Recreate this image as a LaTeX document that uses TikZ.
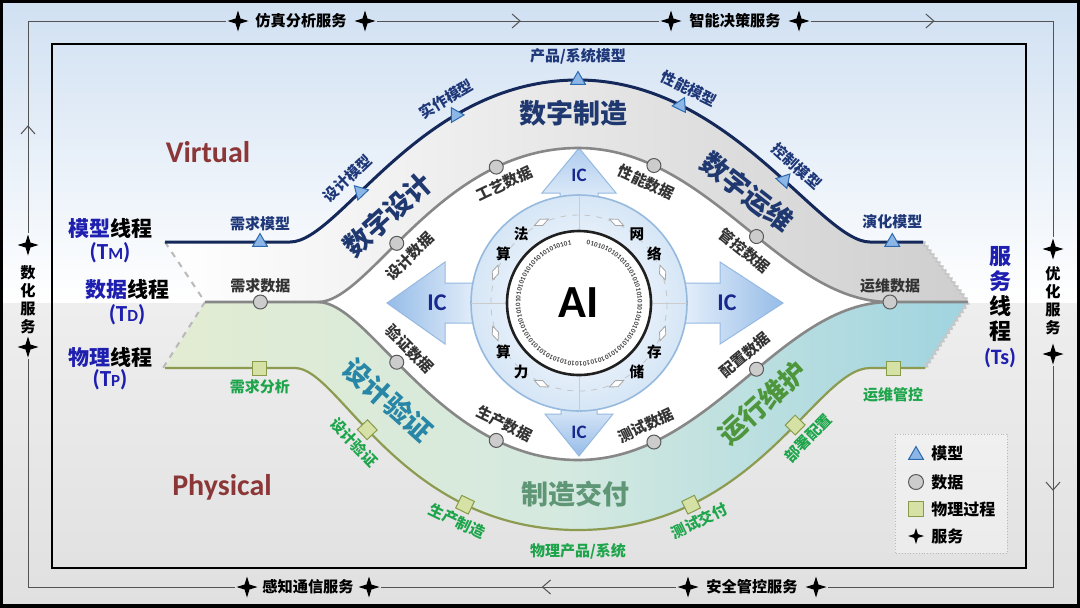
\documentclass[tikz,border=0pt]{standalone}
\usepackage{fontspec}
\setmainfont{Carlito}
\newfontfamily\cjk{Noto Sans CJK SC}
\usetikzlibrary{shapes.geometric,arrows.meta,decorations.markings,decorations.pathmorphing}

\definecolor{bgblue}{RGB}{208,224,242}
\definecolor{bggrayA}{RGB}{238,238,238}
\definecolor{bggrayB}{RGB}{224,224,224}
\definecolor{navyline}{RGB}{20,40,90}
\definecolor{dataline}{RGB}{135,135,135}
\definecolor{physline}{RGB}{140,155,80}
\definecolor{mlabel}{RGB}{30,55,120}
\definecolor{plabel}{RGB}{30,165,75}
\definecolor{titlenavy}{RGB}{31,56,112}
\definecolor{mblue}{RGB}{30,30,175}
\definecolor{vred}{RGB}{140,55,55}
\definecolor{trifill}{RGB}{140,182,230}
\definecolor{triedge}{RGB}{45,105,175}
\definecolor{sqfill}{RGB}{214,226,165}
\definecolor{sqedge}{RGB}{135,155,75}
\definecolor{icdark}{RGB}{150,188,232}
\definecolor{iclight}{RGB}{235,243,252}
\definecolor{icedge}{RGB}{150,185,225}
\definecolor{ictext}{RGB}{25,40,140}
\definecolor{ringblue}{RGB}{214,230,246}
\definecolor{ringedge}{RGB}{150,185,222}
\definecolor{greenband}{RGB}{226,236,210}
\definecolor{midband}{RGB}{212,233,224}
\definecolor{tealband}{RGB}{160,212,224}
\definecolor{vtitle}{RGB}{40,135,166}
\definecolor{ztitle}{RGB}{94,150,118}
\definecolor{otitle}{RGB}{78,150,60}

\begin{document}
\begin{tikzpicture}[x=0.5pt, y=-0.5pt,
    mthread/.style={draw=navyline, line width=1.5pt},
    dthread/.style={draw=dataline, line width=1.3pt},
    pthread/.style={draw=physline, line width=1.1pt},
    mtri/.style={regular polygon, regular polygon sides=3, draw=triedge, fill=trifill, line width=.5pt, inner sep=0pt, minimum size=8.5pt},
    dcirc/.style={circle, draw=gray!70!black, fill=gray!40, line width=.5pt, inner sep=0pt, minimum size=7pt},
    psq/.style={rectangle, draw=sqedge, fill=sqfill, line width=.5pt, inner sep=0pt, minimum size=7pt},
    svc/.style={star, star points=4, star point ratio=3, fill=black, inner sep=0pt, minimum size=10.5pt},
    loopline/.style={draw=gray!65!black, line width=.5pt},
    chevron/.style={postaction={decorate}, decoration={markings, mark=at position #1 with {\arrow{Straight Barb[length=4pt,width=7pt]}}}},
    mlab/.style={font=\cjk\bfseries\fontsize{7.5}{8}\selectfont, text=mlabel, inner sep=1pt},
    dlab/.style={font=\cjk\bfseries\fontsize{7.5}{8}\selectfont, text=black!80, inner sep=1pt},
    plab/.style={font=\cjk\bfseries\fontsize{7.5}{8}\selectfont, text=plabel, inner sep=1pt},
    bigtitle/.style={font=\cjk\bfseries\fontsize{13.5}{14}\selectfont},
    thr/.style={font=\cjk\bfseries\fontsize{10.5}{12}\selectfont},
    tsub/.style={font=\bfseries\fontsize{11.5}{12}\selectfont, text=mblue},
    svlab/.style={font=\cjk\bfseries\fontsize{7.6}{9}\selectfont},
    iclab/.style={font=\bfseries\fontsize{#1}{#1}\selectfont, text=ictext},
    ailab/.style={font=\cjk\bfseries\fontsize{7.3}{8}\selectfont},
    bit/.style={font=\bfseries\fontsize{3.5}{4}\selectfont, text=black!75, inner sep=0pt},
    lgtext/.style={font=\cjk\bfseries\fontsize{8}{9}\selectfont, anchor=west, inner sep=0pt},
    rhomb/.style={diamond, draw=gray!70, fill=white, line width=.4pt, inner sep=0pt, minimum width=3.5pt, minimum height=8pt}
]

% 背景
\useasboundingbox (0,0) rectangle (1080,607);
\shade[top color=bgblue, bottom color=white] (0,0) rectangle (1080,303);
\shade[top color=bggrayA, bottom color=bggrayB] (0,303) rectangle (1080,607);

% 外框和内框
\draw[line width=1.6pt] (1,1) rectangle (1079,606);
\draw[line width=1.4pt] (52,44) rectangle (1026,568);

% 服务环线
\coordinate (c1) at (28,21);
\coordinate (c2) at (1053,21);
\coordinate (c3) at (1053,587);
\coordinate (c4) at (28,587);
\node[svc] (ts1) at (238,21) {};
\node[svc] (ts2) at (365,21) {};
\node[svc] (ts3) at (671,21) {};
\node[svc] (ts4) at (799,21) {};
\node[svc] (bs1) at (247,587) {};
\node[svc] (bs2) at (369,587) {};
\node[svc] (bs3) at (688,587) {};
\node[svc] (bs4) at (816,587) {};
\node[svc] (ls1) at (28,245) {};
\node[svc] (ls2) at (28,347) {};
\node[svc] (rs1) at (1053,249) {};
\node[svc] (rs2) at (1053,354) {};
\draw[loopline, chevron=.263] (ls1) -- (c1) -- (ts1);
\draw[loopline, chevron=.51] (ts2) -- (ts3);
\draw[loopline, chevron=.27] (ts4) -- (c2) -- (rs1);
\draw[loopline, chevron=.28] (rs2) -- (c3) -- (bs4);
\draw[loopline, chevron=.455] (bs3) -- (bs2);
\draw[loopline] (bs1) -- (c4) -- (ls2);

\node[svlab] (sv1) at (301,21) {仿真分析服务};
\node[svlab] (sv2) at (735,21) {智能决策服务};
\node[svlab] (sv3) at (308,587) {感知通信服务};
\node[svlab] (sv4) at (752,587) {安全管控服务};
\node[svlab, align=center] (sv5) at (28,300) {数\\化\\服\\务};
\node[svlab, align=center] (sv6) at (1053,301) {优\\化\\服\\务};

% 色带
\shade[left color=white, right color=black!19]
  (165,242) -- (290,242) .. controls (340,242) and (420,80) .. (578,80)
  .. controls (730,80) and (820,242) .. (870,242) -- (923,242) -- (968,302) -- (890,302)
  .. controls (780,302) and (710,148) .. (578,148)
  .. controls (440,148) and (370,302) .. (318,302) -- (205,302) -- cycle;
\shade[left color=greenband, right color=tealband, middle color=midband]
  (205,302) -- (318,302) .. controls (370,302) and (440,460) .. (578,460)
  .. controls (710,460) and (780,302) .. (890,302) -- (968,302) -- (925,368) -- (870,368)
  .. controls (816,368) and (756,530) .. (578,530)
  .. controls (400,530) and (340,368) .. (295,368) -- (165,368) -- cycle;
\fill[white] (318,302) .. controls (370,302) and (440,148) .. (578,148)
  .. controls (710,148) and (780,302) .. (890,302)
  .. controls (780,302) and (710,460) .. (578,460)
  .. controls (440,460) and (370,302) .. (318,302) -- cycle;

% 左侧虚线, 右侧锯齿边
\draw[gray!55, dashed, line width=1pt] (165,242) -- (205,302) -- (163,368);
\draw[gray!45, line width=.8pt, decorate, decoration={zigzag, segment length=2.5pt, amplitude=.7pt}]
  (923,242) -- (968,302) -- (925,368);

% 四个 IC 箭头
\shadedraw[left color=icdark, right color=iclight, draw=icedge, line width=.5pt]
  (387,303) -- (445,262) -- (445,283) -- (485,283) -- (485,323) -- (445,323) -- (445,344) -- cycle;
\shadedraw[left color=iclight, right color=icdark, draw=icedge, line width=.5pt]
  (783,303) -- (720,262) -- (720,283) -- (675,283) -- (675,323) -- (720,323) -- (720,344) -- cycle;
\shadedraw[top color=icdark!70!iclight, bottom color=iclight, draw=icedge, line width=.5pt]
  (579,148) -- (616,193) -- (598,193) -- (598,212) -- (560,212) -- (560,193) -- (542,193) -- cycle;
\shadedraw[top color=iclight, bottom color=icdark, draw=icedge, line width=.5pt]
  (579,456) -- (613,414) -- (597,414) -- (597,395) -- (561,395) -- (561,414) -- (545,414) -- cycle;
\node[iclab=12] (icl) at (437,303) {IC};
\node[iclab=12] (icr) at (727,303) {IC};
\node[iclab=9.5] (icu) at (579,175) {IC};
\node[iclab=9.5] (icd) at (579,432) {IC};

% 中心 AI 圆
\coordinate (ai) at (579,303);
\shade[inner color=white, outer color=ringblue] (ai) circle[radius=108];
\draw[ringedge, line width=.8pt] (ai) circle[radius=108];
\draw[gray!45, dashed, line width=.4pt] (ai) circle[radius=88];
\foreach \a in {0,90,180,270}
  \draw[gray!40, line width=.4pt] ([shift={(\a:37pt)}]ai) -- ([shift={(\a:54pt)}]ai);
\foreach \a in {20,65,115,160,200,245,295,340}
  \node[rhomb, rotate=\a] (dm\a) at ([shift={(\a:44.5pt)}]ai) {};
\draw[fill=white, draw=gray!25!black, line width=1.3pt] (ai) circle[radius=72];
% 二进制数字环
\foreach \i in {0,...,95} {
  \pgfmathsetmacro\ang{81-3.6*\i}
  \pgfmathtruncatemacro\bitval{mod(\i,2)}
  \node[bit, rotate=\ang-90] (b\i) at ([shift={(\ang:30.5pt)}]ai) {\bitval};
}
\node[font=\bfseries\fontsize{23}{24}\selectfont] (ailabel) at (ai) {AI};
\node[ailab] (w1) at ([shift={(130:45pt)}]ai) {法};
\node[ailab] (w2) at ([shift={(147:45pt)}]ai) {算};
\node[ailab] (w3) at ([shift={(50:45pt)}]ai) {网};
\node[ailab] (w4) at ([shift={(33:45pt)}]ai) {络};
\node[ailab] (w5) at ([shift={(213:45pt)}]ai) {算};
\node[ailab] (w6) at ([shift={(230:45pt)}]ai) {力};
\node[ailab] (w7) at ([shift={(327:45pt)}]ai) {存};
\node[ailab] (w8) at ([shift={(310:45pt)}]ai) {储};

% 物理线程
\draw[pthread] (165,368) -- node[psq, pos=.73] (pk1) {} node[plab, pos=.73, below=4pt] (pl1) {需求分析} (295,368)
  .. controls (340,368) and (400,530) ..
     node[psq, pos=.42, sloped] (pk2) {} node[plab, pos=.42, sloped, below=4pt] (pl2) {设计验证}
     node[psq, pos=.75, sloped] (pk3) {} node[plab, pos=.75, sloped, below=4pt] (pl3) {生产制造}
  (578,530) node[plab, below=5pt] (pl4) {物理产品/系统}
  .. controls (756,530) and (816,368) ..
     node[psq, pos=.25, sloped] (pk5) {} node[plab, pos=.25, sloped, below=4pt] (pl5) {测试交付}
     node[psq, pos=.6, sloped] (pk6) {} node[plab, pos=.6, sloped, below=4pt] (pl6) {部署配置}
  (870,368) -- node[psq, pos=.42] (pk7) {} node[plab, pos=.42, below=8pt] (pl7) {运维管控} (925,368);

% 数据线程 (下支, 上支)
\draw[dthread] (318,302) .. controls (370,302) and (440,460) ..
     node[dcirc, pos=.42, sloped] (dk7) {} node[dlab, pos=.42, sloped, above=4pt] (dl7) {验证数据}
     node[dcirc, pos=.78, sloped] (dk8) {} node[dlab, pos=.78, sloped, above=4pt] (dl8) {生产数据}
  (578,460) .. controls (710,460) and (780,302) ..
     node[dcirc, pos=.21, sloped] (dk9) {} node[dlab, pos=.21, sloped, above=4pt] (dl9) {测试数据}
     node[dcirc, pos=.55, sloped] (dk10) {} node[dlab, pos=.55, sloped, above=4pt] (dl10) {配置数据}
  (890,302);
\draw[dthread] (205,302) -- node[dcirc, pos=.49] (dk1) {} node[dlab, pos=.49, above=3pt] (dl1) {需求数据} (318,302)
  .. controls (370,302) and (440,148) ..
     node[dcirc, pos=.42, sloped] (dk2) {} node[dlab, pos=.42, sloped, below=4pt] (dl2) {设计数据}
     node[dcirc, pos=.78, sloped] (dk3) {} node[dlab, pos=.78, sloped, below=4pt] (dl3) {工艺数据}
  (578,148) .. controls (710,148) and (780,302) ..
     node[dcirc, pos=.21, sloped] (dk4) {} node[dlab, pos=.21, sloped, below=4pt] (dl4) {性能数据}
     node[dcirc, pos=.55, sloped] (dk5) {} node[dlab, pos=.55, sloped, below=4pt] (dl5) {管控数据}
  (890,302) node[dcirc] (dk6) {} node[dlab, above=3pt] (dl6) {运维数据} -- (968,302);

% 模型线程
\draw[mthread] (165,242) -- node[mtri, pos=.76] (mk1) {} node[mlab, pos=.76, above=4pt] (ml1) {需求模型} (290,242)
  .. controls (340,242) and (420,80) ..
     node[mtri, pos=.37, sloped] (mk2) {} node[mlab, pos=.37, sloped, above=4pt] (ml2) {设计模型}
     node[mtri, pos=.7, sloped] (mk3) {} node[mlab, pos=.7, sloped, above=4pt] (ml3) {实作模型}
  (578,80) node[mtri] (mk4) {} node[mlab, above=6pt] (ml4) {产品/系统模型}
  .. controls (730,80) and (820,242) ..
     node[mtri, pos=.25, sloped] (mk5) {} node[mlab, pos=.25, sloped, above=4pt] (ml5) {性能模型}
     node[mtri, pos=.58, sloped] (mk6) {} node[mlab, pos=.58, sloped, above=4pt] (ml6) {控制模型}
  (870,242) -- node[mtri, pos=.42] (mk7) {} node[mlab, pos=.42, above=5pt] (ml7) {演化模型} (923,242);

% 阶段标题
\node[bigtitle, text=titlenavy, rotate=42] (ta) at (388,215) {数字设计};
\node[bigtitle, text=titlenavy] (tb) at (573,113) {数字制造};
\node[bigtitle, text=titlenavy, rotate=-38] (tc) at (747,192) {数字运维};
\node[bigtitle, text=vtitle, rotate=-42] (td) at (388,400) {设计验证};
\node[bigtitle, text=ztitle] (te) at (575,494) {制造交付};
\node[bigtitle, text=otitle, rotate=42] (tf) at (763,403) {运行维护};

% 虚实标签
\node[font=\bfseries\fontsize{15}{16}\selectfont, text=vred] (virt) at (208,152) {Virtual};
\node[font=\bfseries\fontsize{15}{16}\selectfont, text=vred] (phys) at (222,487) {Physical};

% 线程名称
\node[thr] (tm) at (110,228) {\textcolor{mblue}{模型}线程};
\node[tsub] (tmsub) at (110,253) {(T{\fontsize{8.5}{9}\selectfont M})};
\node[thr] (tdd) at (127,290) {\textcolor{mblue}{数据}线程};
\node[tsub] (tdsub) at (127,315) {(T{\fontsize{8.5}{9}\selectfont D})};
\node[thr] (tp) at (110,357) {\textcolor{mblue}{物理}线程};
\node[tsub] (tpsub) at (110,380) {(T{\fontsize{8.5}{9}\selectfont P})};
\node[font=\cjk\bfseries\fontsize{11}{12.5}\selectfont, align=center] (ts) at (1000,307)
  {\textcolor{mblue}{服}\\\textcolor{mblue}{务}\\线\\程\\{\rmfamily\color{mblue}(Ts)}};

% 图例
\draw[gray!55, densely dotted, fill=white, fill opacity=.35] (895,434) rectangle (1007,553);
\node[mtri] (lg1) at (916,455) {};
\node[lgtext] (lt1) at (931,453) {模型};
\node[dcirc, minimum size=7.5pt] (lg2) at (916,482) {};
\node[lgtext] (lt2) at (931,482) {数据};
\node[psq, minimum size=7.5pt] (lg3) at (916,509) {};
\node[lgtext] (lt3) at (931,509) {物理过程};
\node[svc, minimum size=8pt] (lg4) at (916,536) {};
\node[lgtext] (lt4) at (931,536) {服务};

\end{tikzpicture}
\end{document}
